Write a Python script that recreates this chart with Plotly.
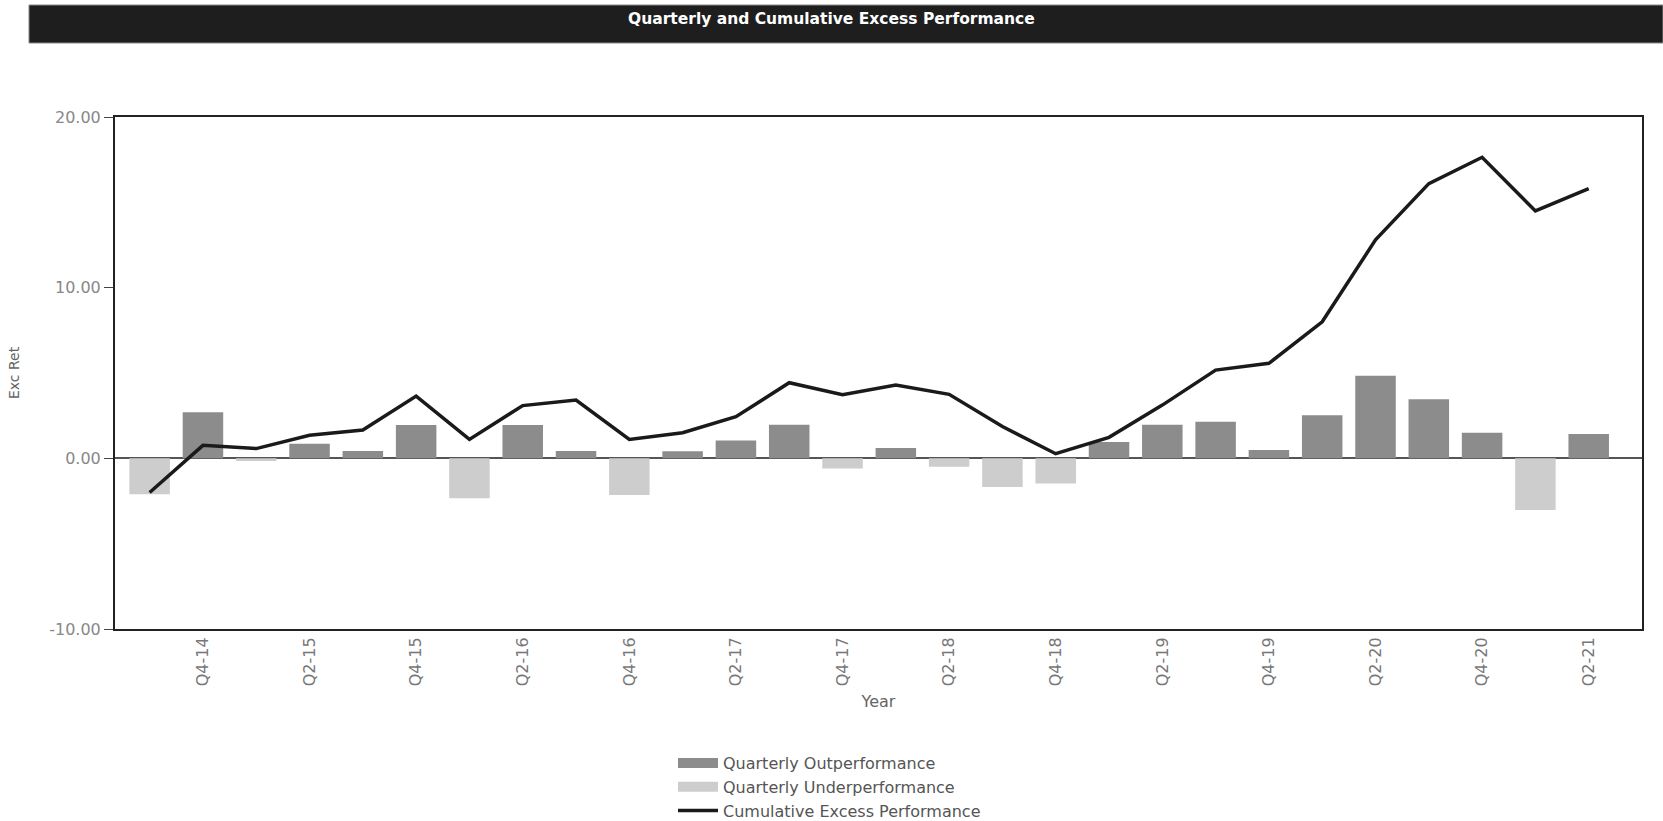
import plotly.graph_objects as go

quarters = ["Q3-14", "Q4-14", "Q1-15", "Q2-15", "Q3-15", "Q4-15", "Q1-16", "Q2-16",
            "Q3-16", "Q4-16", "Q1-17", "Q2-17", "Q3-17", "Q4-17", "Q1-18", "Q2-18",
            "Q3-18", "Q4-18", "Q1-19", "Q2-19", "Q3-19", "Q4-19", "Q1-20", "Q2-20",
            "Q3-20", "Q4-20", "Q1-21", "Q2-21"]

quarterly_excess = [-2.1, 2.7, -0.15, 0.86, 0.43, 1.95, -2.34, 1.95,
                    0.43, -2.15, 0.41, 1.05, 1.97, -0.59, 0.61, -0.49,
                    -1.68, -1.48, 0.96, 1.97, 2.15, 0.49, 2.52, 4.84,
                    3.46, 1.50, -3.03, 1.43]

cumulative_excess = [-2.0, 0.76, 0.57, 1.35, 1.66, 3.65, 1.11, 3.09,
                     3.42, 1.11, 1.50, 2.44, 4.43, 3.73, 4.30, 3.75,
                     1.86, 0.27, 1.23, 3.12, 5.17, 5.57, 8.0, 12.8,
                     16.1, 17.64, 14.5, 15.8]

tick_labels = quarters[1::2]
y_ticks = [-10, 0, 10, 20]
y_tick_text = ["-10.00", "0.00", "10.00", "20.00"]

OUT_COLOR = "#8c8c8c"
UNDER_COLOR = "#cdcdcd"
LINE_COLOR = "#1a1a1a"
FONT = "DejaVu Sans, Liberation Sans, Arial, sans-serif"

outperf = [v if v >= 0 else None for v in quarterly_excess]
underperf = [v if v < 0 else None for v in quarterly_excess]

fig = go.Figure()
fig.add_trace(go.Bar(x=quarters, y=outperf, name="Quarterly Outperformance",
                     marker=dict(color=OUT_COLOR, line=dict(width=0)), width=0.76,
                     legendgroup="out", showlegend=False))
fig.add_trace(go.Bar(x=quarters, y=underperf, name="Quarterly Underperformance",
                     marker=dict(color=UNDER_COLOR, line=dict(width=0)), width=0.76,
                     legendgroup="under", showlegend=False))
fig.add_trace(go.Scatter(x=quarters, y=cumulative_excess, mode="lines",
                         name="Cumulative Excess Performance",
                         line=dict(color=LINE_COLOR, width=3.5), showlegend=False))
# legend entries (wide swatches like the original)
fig.add_trace(go.Scatter(x=[None], y=[None], mode="lines", name="Quarterly Outperformance",
                         line=dict(color=OUT_COLOR, width=15), legendgroup="out"))
fig.add_trace(go.Scatter(x=[None], y=[None], mode="lines", name="Quarterly Underperformance",
                         line=dict(color=UNDER_COLOR, width=15), legendgroup="under"))
fig.add_trace(go.Scatter(x=[None], y=[None], mode="lines", name="Cumulative Excess Performance",
                         line=dict(color=LINE_COLOR, width=3.5)))

L, R, T, B = 115, 1642, 117, 629
W, H = 1663, 821
pw, ph = R - L, B - T

def px(xp):
    return (xp - L) / pw

def py(yp):
    return (B - yp) / ph

fig.add_shape(type="rect", xref="paper", yref="paper",
              x0=px(29), x1=px(1663), y0=py(43), y1=py(5),
              fillcolor="#1e1e1e", line=dict(color="#888888", width=1), layer="above")
fig.add_annotation(text="<b>Quarterly and Cumulative Excess Performance</b>",
                   xref="paper", yref="paper", x=px(831), y=py(19),
                   showarrow=False, xanchor="center", yanchor="middle",
                   font=dict(family=FONT, size=15.5, color="#ffffff"))

fig.update_layout(
    width=W, height=H,
    margin=dict(l=L, r=W - R, t=T, b=H - B, autoexpand=False),
    paper_bgcolor="white", plot_bgcolor="white",
    barmode="overlay",
    font=dict(family=FONT, color="#666666"),
    showlegend=True,
    legend=dict(x=px(673), y=py(746), xanchor="left", yanchor="top",
                orientation="v", font=dict(size=16, color="#555555", family=FONT),
                tracegroupgap=0, itemwidth=40, bgcolor="rgba(0,0,0,0)"),
    xaxis=dict(type="category", range=[-0.65, 28.0], tickmode="array",
               tickvals=tick_labels, ticktext=tick_labels, tickangle=-90,
               tickfont=dict(size=16, color="#777777"), ticks="",
               showline=True, linecolor="#222222", linewidth=2, mirror=True,
               showgrid=False, zeroline=False,
               title=dict(text="Year", font=dict(size=16, color="#666666"), standoff=10)),
    yaxis=dict(range=[-10, 20], tickmode="array", tickvals=y_ticks, ticktext=y_tick_text,
               tickfont=dict(size=16, color="#888888"), ticks="outside", ticklen=9,
               tickcolor="#444444",
               showline=True, linecolor="#222222", linewidth=2, mirror=True,
               showgrid=False, zeroline=True, zerolinecolor="#555555", zerolinewidth=1.5,
               title=dict(text="Exc Ret", font=dict(size=14, color="#666666"), standoff=26)),
)

fig.write_html("out.html", config={"displayModeBar": False},
               post_script="document.body.style.margin='0px';")
